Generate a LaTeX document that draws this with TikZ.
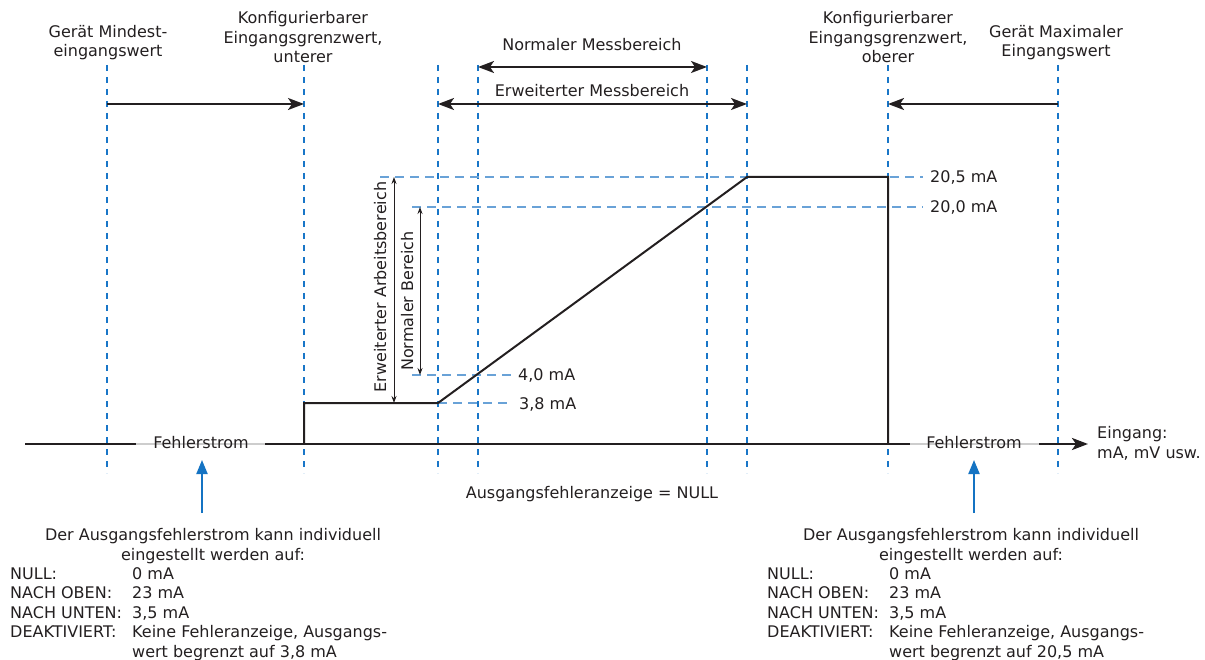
\documentclass[tikz,border=0pt]{standalone}
\usepackage{fontspec}
\setmainfont{DejaVu Sans}
\usetikzlibrary{arrows.meta}
\definecolor{vblue}{RGB}{25,118,200}
\definecolor{hblue}{RGB}{105,162,215}
\definecolor{ink}{RGB}{35,31,32}
\definecolor{gline}{RGB}{205,205,205}
\definecolor{ablue}{RGB}{20,115,195}
\begin{document}
\begin{tikzpicture}[x=1pt,y=-1pt,
  every node/.style={font=\fontsize{16}{19.5}\selectfont, text=ink, inner sep=0pt},
  lbl/.style={anchor=base, align=center},
  vdash/.style={vblue, line width=1.3pt, dash pattern=on 6pt off 6pt},
  hdash/.style={hblue, line width=1.5pt, dash pattern=on 9pt off 6pt},
  bigarrow/.style={ink, line width=2pt, -{Stealth[length=16pt,width=12pt,inset=4pt]}},
  bigdarrow/.style={ink, line width=2pt, {Stealth[length=16pt,width=12pt,inset=4pt]}-{Stealth[length=16pt,width=12pt,inset=4pt]}},
  thinarrow/.style={ink, line width=0.9pt, {Stealth[length=7pt,width=5pt]}-{Stealth[length=7pt,width=5pt]}},
  curvestyle/.style={ink, line width=2pt, line join=miter},
  axisstyle/.style={ink, line width=2.5pt},
  greyseg/.style={gline, line width=2pt},
  bluearrow/.style={ablue, line width=2pt, -{Stealth[length=14pt,width=11pt,inset=0pt]}},
]
\useasboundingbox (0,0) rectangle (1205,660);

% vertical dashed guide lines
\foreach \n/\x in {1/107,2/304,3/438,4/478,5/707,6/747,7/888,8/1058}{
  \coordinate (v\n t) at (\x,65);
  \coordinate (v\n b) at (\x,473);
}
\foreach \n in {1,...,8}{ \draw[vdash] (v\n t) -- (v\n b); }

% horizontal dashed level lines
\coordinate (h205a) at (380,177); \coordinate (h205b) at (923,177);
\coordinate (h200a) at (412,207); \coordinate (h200b) at (923,207);
\coordinate (h40a) at (412,375);  \coordinate (h40b) at (512,375);
\coordinate (h38a) at (438,403);  \coordinate (h38b) at (512,403);
\draw[hdash] (h205a) -- (h205b);
\draw[hdash] (h200a) -- (h200b);
\draw[hdash] (h40a) -- (h40b);
\draw[hdash] (h38a) -- (h38b);

% axis
\coordinate (ax0) at (25,444);
\coordinate (ax1) at (136,444);
\coordinate (ax2) at (265,444);
\coordinate (ax3) at (910,444);
\coordinate (ax4) at (1039,444);
\coordinate (ax5) at (1088,444);
\draw[greyseg] (ax1) -- (ax2);
\draw[greyseg] (ax3) -- (ax4);
\draw[axisstyle] (ax0) -- (ax1);
\draw[axisstyle] (ax2) -- (ax3);
\draw[axisstyle, -{Stealth[length=16pt,width=12pt,inset=4pt]}] (ax4) -- (ax5);

% transfer curve
\coordinate (c0) at (304,444);
\coordinate (c1) at (304,403);
\coordinate (c2) at (438,403);
\coordinate (c3) at (747,177);
\coordinate (c4) at (888,177);
\coordinate (c5) at (888,444);
\draw[curvestyle] (c0) -- (c1) -- (c2) -- (c3) -- (c4) -- (c5);

% horizontal range arrows
\coordinate (r1a) at (107,104); \coordinate (r1b) at (304,104);
\coordinate (r2a) at (1058,104); \coordinate (r2b) at (888,104);
\coordinate (r3a) at (478,67); \coordinate (r3b) at (707,67);
\coordinate (r4a) at (438,104); \coordinate (r4b) at (747,104);
\draw[bigarrow] (r1a) -- (r1b);
\draw[bigarrow] (r2a) -- (r2b);
\draw[bigdarrow] (r3a) -- (r3b);
\draw[bigdarrow] (r4a) -- (r4b);

% vertical range arrows
\coordinate (e1a) at (394,177); \coordinate (e1b) at (394,403);
\coordinate (e2a) at (420,207); \coordinate (e2b) at (420,375);
\draw[thinarrow] (e1a) -- (e1b);
\draw[thinarrow] (e2a) -- (e2b);

% blue arrows
\coordinate (b1a) at (202,513); \coordinate (b1b) at (202,460);
\coordinate (b2a) at (974,513); \coordinate (b2b) at (974,460);
\draw[bluearrow] (b1a) -- (b1b);
\draw[bluearrow] (b2a) -- (b2b);

% top labels (base = baseline of last line)
\node[lbl] (gmin) at (108,57) {Gerät Mindest-\\eingangswert};
\node[lbl] (klo) at (303,63) {Konfigurierbarer\\Eingangsgrenzwert,\\unterer};
\node[lbl] (nmb) at (592,51) {Normaler Messbereich};
\node[lbl] (emb) at (592,97) {Erweiterter Messbereich};
\node[lbl] (kob) at (888,63) {Konfigurierbarer\\Eingangsgrenzwert,\\oberer};
\node[lbl] (gmax) at (1056,57) {Gerät Maximaler\\Eingangswert};

% level labels
\node[anchor=base west] (l205) at (930,183) {20,5 mA};
\node[anchor=base west] (l200) at (930,213) {20,0 mA};
\node[anchor=base west] (l40) at (518,381) {4,0 mA};
\node[anchor=base west] (l38) at (519,409) {3,8 mA};

% vertical labels
\node[anchor=base, rotate=90] (ear) at (386,287) {Erweiterter Arbeitsbereich};
\node[anchor=base, rotate=90] (nbr) at (413,301) {Normaler Bereich};

% axis labels
\node[lbl] (fs1) at (201,448.5) {Fehlerstrom};
\node[lbl] (fs2) at (974,448.5) {Fehlerstrom};
\node[anchor=base west, align=left] (ein) at (1097,458) {Eingang:\\mA, mV usw.};
\node[lbl] (null) at (592,498) {Ausgangsfehleranzeige = NULL};

% bottom text blocks
\node[lbl] (hl) at (213,560) {Der Ausgangsfehlerstrom kann individuell\\eingestellt werden auf:};
\node[anchor=base west] (tl) at (10,579) {\begin{tabular}[t]{@{}p{122pt}@{}l@{}}
NULL: & 0 mA\\
NACH OBEN: & 23 mA\\
NACH UNTEN: & 3,5 mA\\
DEAKTIVIERT: & Keine Fehleranzeige, Ausgangs-\\
 & wert begrenzt auf 3,8 mA
\end{tabular}};
\node[lbl] (hr) at (971,560) {Der Ausgangsfehlerstrom kann individuell\\eingestellt werden auf:};
\node[anchor=base west] (tr) at (767,579) {\begin{tabular}[t]{@{}p{122pt}@{}l@{}}
NULL: & 0 mA\\
NACH OBEN: & 23 mA\\
NACH UNTEN: & 3,5 mA\\
DEAKTIVIERT: & Keine Fehleranzeige, Ausgangs-\\
 & wert begrenzt auf 20,5 mA
\end{tabular}};
\end{tikzpicture}
\end{document}
